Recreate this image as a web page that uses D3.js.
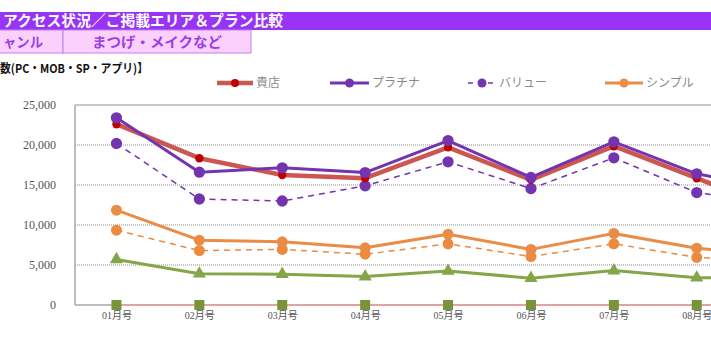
<!DOCTYPE html>
<html>
<head>
<meta charset="utf-8">
<script src="https://cdn.jsdelivr.net/npm/d3@7"></script>
<style>
  html, body { margin: 0; padding: 0; background: #fff; overflow: hidden; }
  svg { display: block; }
</style>
</head>
<body>
<svg id="chart" width="711" height="340"></svg>
<script>
// Monthly access counts per plan
const months = ["01月号", "02月号", "03月号", "04月号", "05月号", "06月号", "07月号", "08月号", "09月号"];
const kiten      = [22600, 18350, 16250, 15850, 19700, 15650, 19850, 15850, 11800];
const platinum   = [23400, 16600, 17150, 16550, 20550, 15950, 20400, 16400, 14400];
const valuePlan  = [20200, 13250, 13000, 14900, 17900, 14550, 18400, 14050, 12700];
const simple     = [11850, 8100, 7900, 7150, 8850, 6950, 8950, 7100, 6200];
const simpleAvg  = [9350, 6800, 6950, 6350, 7650, 6050, 7650, 5950, 5400];
const greenPlan  = [5700, 3900, 3850, 3550, 4250, 3350, 4300, 3400, 3500];
const zeroPlan   = [0, 0, 0, 0, 0, 0, 0, 0, 0];
const yTicks     = [0, 5000, 10000, 15000, 20000, 25000];
const legendNames = ["貴店", "プラチナ", "バリュー", "シンプル"];

const svg = d3.select("#chart");
const jp = "'Noto Sans CJK JP', sans-serif";
const serif = "'Liberation Serif', 'Noto Sans CJK JP', serif";

// ---- header rows ----
svg.append("rect").attr("x", 0).attr("y", 12).attr("width", 711).attr("height", 18).attr("fill", "#9933f5");
svg.append("text").attr("x", 3).attr("y", 21).attr("dy", "0.36em")
  .attr("fill", "#fff").attr("font-family", jp).attr("font-weight", "bold").attr("font-size", 15)
  .attr("textLength", 280).attr("lengthAdjust", "spacingAndGlyphs")
  .text("アクセス状況／ご掲載エリア＆プラン比較");

svg.append("rect").attr("x", -2).attr("y", 30).attr("width", 65).attr("height", 23)
  .attr("fill", "#fcd0fc").attr("stroke", "#c080ec").attr("stroke-width", 1);
svg.append("rect").attr("x", 63).attr("y", 30).attr("width", 188).attr("height", 23)
  .attr("fill", "#fcd0fc").attr("stroke", "#c080ec").attr("stroke-width", 1);
svg.append("text").attr("x", 3).attr("y", 41.5).attr("dy", "0.36em")
  .attr("fill", "#9a3fe6").attr("font-family", jp).attr("font-weight", "bold").attr("font-size", 14)
  .attr("textLength", 40).attr("lengthAdjust", "spacingAndGlyphs")
  .text("ャンル");
svg.append("text").attr("x", 157).attr("y", 41.5).attr("dy", "0.36em").attr("text-anchor", "middle")
  .attr("fill", "#9a3fe6").attr("font-family", jp).attr("font-weight", "bold").attr("font-size", 14)
  .attr("textLength", 130).attr("lengthAdjust", "spacingAndGlyphs")
  .text("まつげ・メイクなど");

svg.append("text").attr("x", 0).attr("y", 69).attr("dy", "0.36em")
  .attr("fill", "#111").attr("font-family", jp).attr("font-weight", "bold").attr("font-size", 12)
  .attr("textLength", 148).attr("lengthAdjust", "spacingAndGlyphs")
  .text("数(PC・MOB・SP・アプリ)】");

// ---- scales ----
const x = d3.scalePoint().domain(months).range([75, 75 + 82.9 * months.length]).padding(0.5);
const y = d3.scaleLinear().domain([0, 25000]).range([305, 105]);

// gridlines
svg.append("g").selectAll("line").data(yTicks.filter(t => t > 0 && t < 25000)).join("line")
  .attr("x1", 75).attr("x2", 711).attr("y1", d => y(d)).attr("y2", d => y(d))
  .attr("stroke", "#8c8c8c").attr("stroke-width", 1.2).attr("stroke-dasharray", "1,1");

// plot frame
svg.append("line").attr("x1", 75).attr("x2", 711).attr("y1", y(25000)).attr("y2", y(25000))
  .attr("stroke", "#b4b4b4").attr("stroke-width", 1.5);
svg.append("line").attr("x1", 75).attr("x2", 75).attr("y1", y(25000)).attr("y2", y(0))
  .attr("stroke", "#a8a8a8").attr("stroke-width", 1.5);
svg.append("line").attr("x1", 75).attr("x2", 711).attr("y1", y(0)).attr("y2", y(0))
  .attr("stroke", "#a8a8a8").attr("stroke-width", 1.5);

// axes
const yAxis = svg.append("g").attr("transform", "translate(75,0)")
  .call(d3.axisLeft(y).tickValues(yTicks).tickSize(0).tickPadding(19).tickFormat(d3.format(",")));
yAxis.select(".domain").remove();
yAxis.selectAll("text").attr("font-family", serif).attr("font-size", 12).attr("fill", "#555");

const xAxis = svg.append("g").attr("transform", `translate(0,${y(0)})`)
  .call(d3.axisBottom(x).tickSize(0).tickPadding(7));
xAxis.select(".domain").remove();
xAxis.selectAll("text").attr("font-family", serif).attr("font-size", 10).attr("fill", "#555");

// ---- series ----
const line = d3.line().x((d, i) => x(months[i])).y(d => y(d));
const plot = svg.append("g");

function drawSeries(values, opt) {
  const g = plot.append("g");
  g.append("path").datum(values).attr("d", line)
    .attr("fill", "none").attr("stroke", opt.color).attr("stroke-width", opt.width)
    .attr("stroke-dasharray", opt.dash || null).attr("stroke-linejoin", "round");
  const pts = g.selectAll(".pt").data(values).join("path").attr("class", "pt")
    .attr("transform", (d, i) => `translate(${x(months[i])},${y(d)})`)
    .attr("fill", opt.markerColor || opt.color);
  pts.attr("d", d3.symbol().type(opt.symbol || d3.symbolCircle).size(opt.size || 90));
}

drawSeries(zeroPlan,  { color: "#e4a3a3", width: 2, symbol: d3.symbolSquare, size: 100, markerColor: "#77933c" });
drawSeries(greenPlan, { color: "#84a548", width: 3, symbol: d3.symbolTriangle, size: 75 });
drawSeries(simpleAvg, { color: "#ec8a3f", width: 1.5, dash: "6,5", size: 95 });
drawSeries(simple,    { color: "#ea8c46", width: 3, size: 95 });
drawSeries(valuePlan, { color: "#7434b0", width: 1.5, dash: "6,5", size: 100 });
drawSeries(kiten,     { color: "#cc5752", width: 4.5, size: 55, markerColor: "#c00000" });
drawSeries(platinum,  { color: "#7434b0", width: 3, size: 100 });

// ---- legend ----
const legendItems = [
  { name: legendNames[0], x1: 217, x2: 253, color: "#cc5752", width: 4.5, marker: "#c00000", r: 4 },
  { name: legendNames[1], x1: 330, x2: 369, color: "#7434b0", width: 3, marker: "#7434b0", r: 4.5 },
  { name: legendNames[2], x1: 468, x2: 496, color: "#7434b0", width: 1.5, dash: "5,5", marker: "#7434b0", r: 4.5 },
  { name: legendNames[3], x1: 605, x2: 643, color: "#ea8c46", width: 3, marker: "#ea8c46", r: 4.5 }
];
const ly = 83;
const lg = svg.append("g").selectAll("g").data(legendItems).join("g");
lg.append("line").attr("x1", d => d.x1).attr("x2", d => d.x2).attr("y1", ly).attr("y2", ly)
  .attr("stroke", d => d.color).attr("stroke-width", d => d.width).attr("stroke-dasharray", d => d.dash || null);
lg.append("circle").attr("cx", d => (d.x1 + d.x2) / 2).attr("cy", ly).attr("r", d => d.r).attr("fill", d => d.marker);
lg.append("text").attr("x", d => d.x2 + 3).attr("y", ly).attr("dy", "0.36em")
  .attr("font-family", jp).attr("font-size", 12).attr("fill", "#8a8a8a").text(d => d.name);
</script>
</body>
</html>
